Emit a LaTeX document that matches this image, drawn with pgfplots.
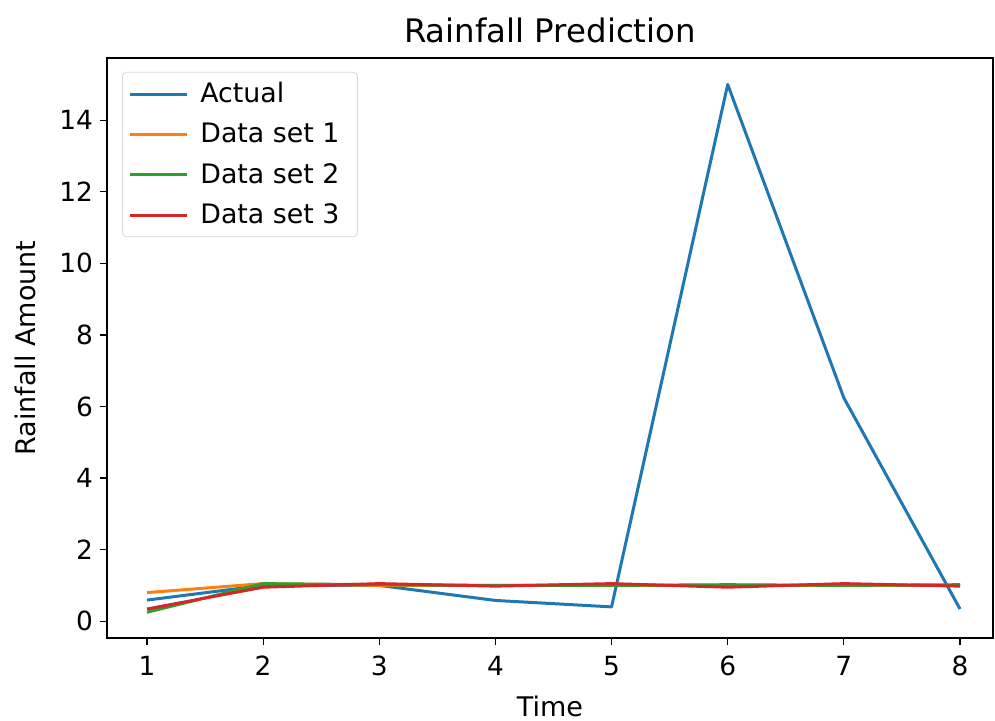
\documentclass[border=0pt]{standalone}
\usepackage{fontspec}
\setmainfont{DejaVu Sans}
\usepackage{pgfplots}
\pgfplotsset{compat=1.18}
\definecolor{mplblue}{HTML}{1F77B4}
\definecolor{mplorange}{HTML}{FF7F0E}
\definecolor{mplgreen}{HTML}{2CA02C}
\definecolor{mplred}{HTML}{D62728}

\begin{document}
\begin{tikzpicture}
\path[use as bounding box] (-53.5pt,-41pt) rectangle (444pt,319pt);
\begin{axis}[
  at={(0,0)},anchor=south west,
  scale only axis,width=443pt,height=290pt,
  xmin=0.656,xmax=8.284,ymin=-0.47,ymax=15.74,
  xtick={1,...,8},ytick={0,2,...,14},
  tick align=outside,major tick length=3.5pt,
  tick pos=left,
  tick style={black,line width=0.6pt},
  axis line style={black,line width=0.6pt},
  /pgf/number format/assume math mode=true,
  tick label style={font=\fontsize{13.2}{15}\selectfont},
  xticklabel style={yshift=-2pt},
  label style={font=\fontsize{13.5}{15}\selectfont},
  xlabel style={yshift=-3pt},
  ylabel style={yshift=5pt},
  title style={font=\fontsize{16.2}{18}\selectfont,yshift=-2pt},
  title={Rainfall Prediction},
  xlabel={Time},ylabel={Rainfall Amount},
  legend style={at={(0.017,0.976)},anchor=north west,
    font=\fontsize{13.4}{15}\selectfont,draw=black!15,rounded corners=2pt,
    row sep=4.8pt,inner sep=3pt,
    nodes={inner xsep=6pt}},
  legend cell align=left,
  legend image code/.code={\draw[#1] (0cm,0cm) -- (1.0cm,0cm);},
  every axis plot/.append style={line width=1.5pt,line join=round},
]
\addplot[mplblue] coordinates {(1,0.59) (2,1.0) (3,1.0) (4,0.58) (5,0.40) (6,15.0) (7,6.24) (8,0.34)};
\addplot[mplorange] coordinates {(1,0.80) (2,1.05) (3,1.0) (4,1.0) (5,1.0) (6,1.0) (7,1.0) (8,1.0)};
\addplot[mplgreen] coordinates {(1,0.25) (2,1.05) (3,1.02) (4,1.0) (5,1.0) (6,1.02) (7,1.0) (8,1.02)};
\addplot[mplred] coordinates {(1,0.34) (2,0.95) (3,1.05) (4,0.98) (5,1.05) (6,0.95) (7,1.05) (8,0.98)};
\legend{Actual,Data set 1,Data set 2,Data set 3}
\end{axis}
\end{tikzpicture}
\end{document}
